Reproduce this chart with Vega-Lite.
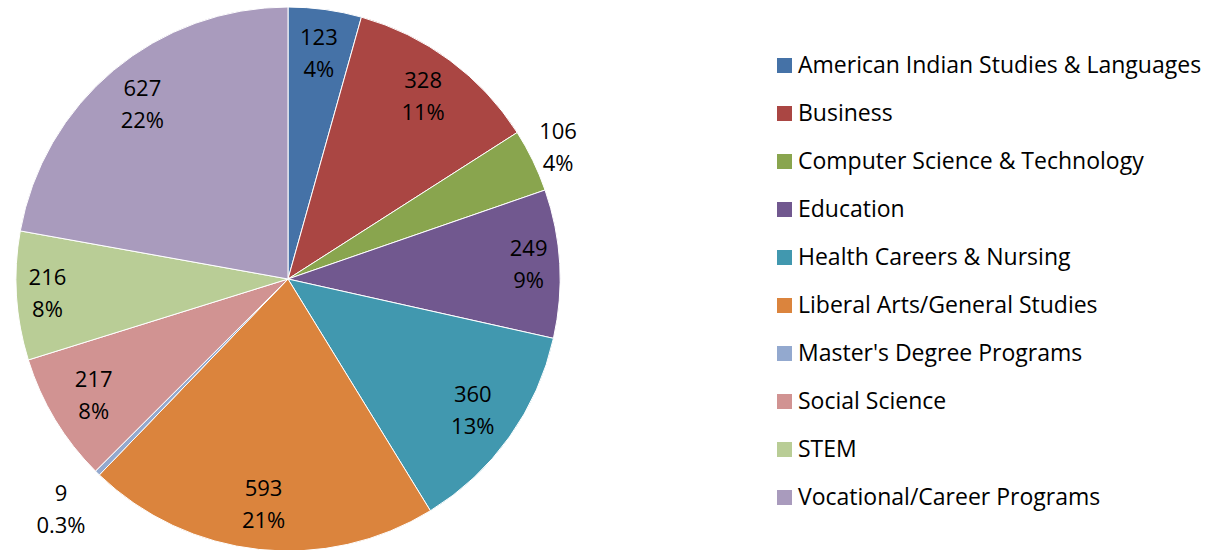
{
  "$schema": "https://vega.github.io/schema/vega-lite/v6.json",
  "width": 576,
  "height": 558,
  "autosize": {"type": "none"},
  "padding": {"left": 0, "top": 0, "right": 635, "bottom": 0},
  "background": "white",
  "config": {"view": {"stroke": null}, "font": "Open Sans"},
  "data": {
    "values": [
      {"i": 1, "category": "American Indian Studies & Languages", "count": 123, "label": "123\n4%"},
      {"i": 2, "category": "Business", "count": 328, "label": "328\n11%"},
      {"i": 3, "category": "Computer Science & Technology", "count": 106, "label": "106\n4%"},
      {"i": 4, "category": "Education", "count": 249, "label": "249\n9%"},
      {"i": 5, "category": "Health Careers & Nursing", "count": 360, "label": "360\n13%"},
      {"i": 6, "category": "Liberal Arts/General Studies", "count": 593, "label": "593\n21%"},
      {"i": 7, "category": "Master's Degree Programs", "count": 9, "label": "9\n0.3%"},
      {"i": 8, "category": "Social Science", "count": 217, "label": "217\n8%"},
      {"i": 9, "category": "STEM", "count": 216, "label": "216\n8%"},
      {"i": 10, "category": "Vocational/Career Programs", "count": 627, "label": "627\n22%"}
    ]
  },
  "encoding": {
    "theta": {"field": "count", "type": "quantitative", "stack": true},
    "order": {"field": "i", "type": "quantitative"}
  },
  "layer": [
    {
      "mark": {"type": "arc", "outerRadius": 272, "stroke": "white", "strokeWidth": 1},
      "encoding": {
        "color": {
          "field": "category",
          "type": "nominal",
          "scale": {
            "domain": ["American Indian Studies & Languages", "Business", "Computer Science & Technology", "Education", "Health Careers & Nursing", "Liberal Arts/General Studies", "Master's Degree Programs", "Social Science", "STEM", "Vocational/Career Programs"],
            "range": ["#4572A7", "#AA4643", "#89A54E", "#71588F", "#4198AF", "#DB843D", "#93A9CF", "#D19392", "#B9CD96", "#A99BBD"]
          },
          "sort": null,
          "legend": {
            "title": null,
            "orient": "none",
            "legendX": 773,
            "legendY": 54,
            "padding": 0,
            "symbolType": "square",
            "symbolSize": 225,
            "symbolStrokeWidth": 0,
            "symbolOpacity": 1,
            "labelFont": "Open Sans",
            "labelFontSize": 23,
            "labelColor": "black",
            "labelOffset": 2,
            "labelLimit": 600,
            "rowPadding": 24
          }
        }
      }
    },
    {
      "mark": {"type": "text", "radius": 227, "fontSize": 22, "lineBreak": "\n", "lineHeight": 32, "color": "black", "baseline": "middle", "align": "center", "dy": -16},
      "encoding": {
        "detail": {"field": "category", "type": "nominal"},
        "text": {"condition": {"test": "indexof([106, 9, 249, 216], datum.count) >= 0", "value": ""}, "field": "label", "type": "nominal"}
      }
    },
    {
      "mark": {"type": "text", "radius": 241, "fontSize": 22, "lineBreak": "\n", "lineHeight": 32, "color": "black", "baseline": "middle", "align": "center", "dy": -16},
      "encoding": {
        "detail": {"field": "category", "type": "nominal"},
        "text": {"condition": {"test": "indexof([249, 216], datum.count) < 0", "value": ""}, "field": "label", "type": "nominal"}
      }
    },
    {
      "mark": {"type": "text", "radius": 300, "fontSize": 22, "lineBreak": "\n", "lineHeight": 32, "color": "black", "baseline": "middle", "align": "center", "dy": -16},
      "encoding": {
        "detail": {"field": "category", "type": "nominal"},
        "text": {"condition": {"test": "datum.count != 106", "value": ""}, "field": "label", "type": "nominal"}
      }
    },
    {
      "mark": {"type": "text", "radius": 324, "fontSize": 22, "lineBreak": "\n", "lineHeight": 32, "color": "black", "baseline": "middle", "align": "center", "dy": -16},
      "encoding": {
        "detail": {"field": "category", "type": "nominal"},
        "text": {"condition": {"test": "datum.count != 9", "value": ""}, "field": "label", "type": "nominal"}
      }
    }
  ]
}
